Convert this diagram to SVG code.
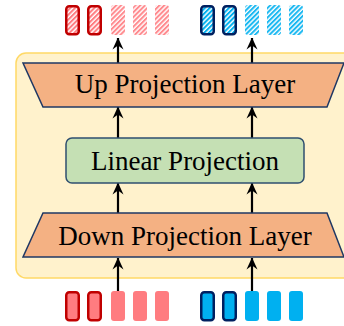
<svg xmlns="http://www.w3.org/2000/svg" width="344" height="326" viewBox="0 0 344 326">
<defs>
<style>
.lbl{font-family:"Liberation Serif","Times New Roman",serif;font-size:27px;fill:#000;text-anchor:middle}
.trap{fill:#F4B183;stroke:#1F3864;stroke-width:1.5;stroke-linejoin:miter}
.lin{fill:#C5E0B4;stroke:#2F4F6F;stroke-width:1.5}
.conn{stroke:#000;stroke-width:2.2;fill:none;marker-end:url(#ah)}
.rd{fill:#FF7C80;stroke:#C00000;stroke-width:2.5}
.rl{fill:#FF7C80}
.bd{fill:#00B0F0;stroke:#002060;stroke-width:2.5}
.bl{fill:#00B0F0}
.rdh{fill:url(#hr);stroke:#C00000;stroke-width:2.5}
.rlh{fill:url(#hrl)}
.bdh{fill:url(#hb);stroke:#002060;stroke-width:2.5}
.blh{fill:url(#hbl)}
</style>
<marker id="ah" viewBox="0 0 12 12" refX="11.5" refY="6" markerWidth="12" markerHeight="12" markerUnits="userSpaceOnUse" orient="auto">
<path d="M12,6 L0,0.5 L4,6 L0,11.5 Z" fill="#000"/>
</marker>
<pattern id="hr" patternUnits="userSpaceOnUse" width="3.4" height="3.4" patternTransform="rotate(45)">
<rect width="3.4" height="3.4" fill="#FFFFFF"/><rect width="2" height="3.4" fill="#FF7C80"/>
</pattern>
<pattern id="hrl" patternUnits="userSpaceOnUse" width="3.4" height="3.4" patternTransform="rotate(45)">
<rect width="3.4" height="3.4" fill="#FFFFFF"/><rect width="2" height="3.4" fill="#FF8A8E"/>
</pattern>
<pattern id="hb" patternUnits="userSpaceOnUse" width="3.4" height="3.4" patternTransform="rotate(45)">
<rect width="3.4" height="3.4" fill="#FFFFFF"/><rect width="2" height="3.4" fill="#00B0F0"/>
</pattern>
<pattern id="hbl" patternUnits="userSpaceOnUse" width="3.4" height="3.4" patternTransform="rotate(45)">
<rect width="3.4" height="3.4" fill="#FFFFFF"/><rect width="2" height="3.4" fill="#1AB8F1"/>
</pattern>
</defs>
<rect width="344" height="326" fill="#FFFFFF"/>
<g id="container">
<rect x="16" y="53" width="340" height="225" rx="10" fill="#FFF2CC" stroke="#FFD966" stroke-width="1.5"/>
</g>
<g id="connectors">
<line class="conn" x1="118" y1="291" x2="118" y2="258"/>
<line class="conn" x1="252" y1="291" x2="252" y2="258"/>
<line class="conn" x1="118" y1="213" x2="118" y2="183"/>
<line class="conn" x1="252" y1="213" x2="252" y2="183"/>
<line class="conn" x1="118" y1="138" x2="118" y2="107"/>
<line class="conn" x1="252" y1="138" x2="252" y2="107"/>
<line class="conn" x1="118" y1="63" x2="118" y2="38"/>
<line class="conn" x1="252" y1="63" x2="252" y2="38"/>
</g>
<g id="up-projection">
<polygon class="trap" points="23,63 344,63 327,107 43,107"/>
<text class="lbl" x="185" y="93">Up Projection Layer</text>
</g>
<g id="linear-projection">
<rect class="lin" x="66" y="138" width="238" height="45" rx="6"/>
<text class="lbl" x="185" y="170">Linear Projection</text>
</g>
<g id="down-projection">
<polygon class="trap" points="43,213 327,213 344,257 23,257"/>
<text class="lbl" x="185" y="245">Down Projection Layer</text>
</g>
<g id="output-tokens">
<rect class="rdh" x="66.25" y="6.25" width="12.5" height="28" rx="3"/>
<rect class="rdh" x="88.25" y="6.25" width="12.5" height="28" rx="3"/>
<rect class="rlh" x="111" y="5" width="14" height="30" rx="3"/>
<rect class="rlh" x="133" y="5" width="14" height="30" rx="3"/>
<rect class="rlh" x="155" y="5" width="14" height="30" rx="3"/>
<rect class="bdh" x="201.25" y="6.25" width="12.5" height="28" rx="3"/>
<rect class="bdh" x="223.25" y="6.25" width="12.5" height="28" rx="3"/>
<rect class="blh" x="245" y="5" width="14" height="30" rx="3"/>
<rect class="blh" x="267" y="5" width="14" height="30" rx="3"/>
<rect class="blh" x="289" y="5" width="14" height="30" rx="3"/>
</g>
<g id="input-tokens">
<rect class="rd" x="66.25" y="292.25" width="12.5" height="28" rx="3"/>
<rect class="rd" x="88.25" y="292.25" width="12.5" height="28" rx="3"/>
<rect class="rl" x="111" y="291" width="14" height="30" rx="3"/>
<rect class="rl" x="133" y="291" width="14" height="30" rx="3"/>
<rect class="rl" x="155" y="291" width="14" height="30" rx="3"/>
<rect class="bd" x="201.25" y="292.25" width="12.5" height="28" rx="3"/>
<rect class="bd" x="223.25" y="292.25" width="12.5" height="28" rx="3"/>
<rect class="bl" x="245" y="291" width="14" height="30" rx="3"/>
<rect class="bl" x="267" y="291" width="14" height="30" rx="3"/>
<rect class="bl" x="289" y="291" width="14" height="30" rx="3"/>
</g>
</svg>
